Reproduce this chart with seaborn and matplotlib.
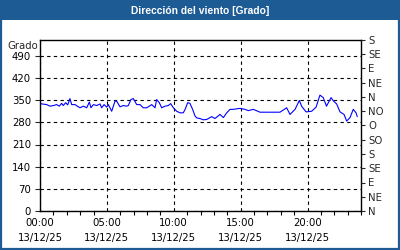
import matplotlib
matplotlib.use("Agg")
import matplotlib.pyplot as plt
import seaborn as sns
import pandas as pd
from matplotlib.patches import Rectangle
from matplotlib.ticker import MultipleLocator

# ---- data ----
hours = [0.00, 0.50, 0.75, 1.00, 1.25, 1.44, 1.62, 1.74, 1.92, 2.07, 2.24, 2.37, 2.62, 2.79,
         2.99, 3.24, 3.49, 3.69, 3.81, 3.99, 4.24, 4.49, 4.61, 4.79, 4.99, 5.11, 5.36, 5.61,
         5.73, 5.98, 6.23, 6.48, 6.60, 6.80, 6.98, 7.23, 7.48, 7.72, 7.98, 8.35, 8.60, 8.72,
         8.92, 9.10, 9.35, 9.59, 9.77, 9.97, 10.22, 10.47, 10.71, 10.84, 11.04, 11.21, 11.42,
         11.59, 11.72, 11.96, 12.21, 12.46, 12.84, 13.08, 13.46, 13.71, 13.96, 14.21, 14.45,
         14.95, 15.33, 15.57, 15.95, 16.45, 16.95, 17.94, 18.44, 18.69, 19.07, 19.39, 19.56,
         19.89, 20.31, 20.64, 20.93, 21.18, 21.42, 21.76, 21.93, 22.18, 22.43, 22.73, 22.93,
         23.18, 23.42, 23.63, 23.72]
direction = [339, 336, 331, 333, 336, 331, 340, 333, 342, 335, 355, 336, 336, 331,
             326, 331, 326, 344, 326, 336, 333, 338, 326, 336, 328, 336, 315, 347,
             347, 329, 333, 331, 333, 352, 355, 336, 336, 326, 326, 336, 326, 352,
             342, 326, 331, 333, 339, 326, 315, 310, 310, 320, 342, 340, 320,
             300, 294, 292, 288, 289, 298, 292, 305, 295, 310, 321, 321,
             324, 321, 317, 321, 312, 312, 312, 326, 305, 321, 349, 331,
             313, 315, 328, 366, 358, 331, 358, 348, 338, 313, 305, 284,
             295, 321, 310, 298]
left_ticks = [0, 70, 140, 210, 280, 350, 420, 490]
compass_labels = ["N", "NE", "E", "SE", "S", "SO", "O", "NO", "N", "NE", "E", "SE", "S"]
x_major = [0, 5, 10, 15, 20]
x_labels = ["00:00\n13/12/25", "05:00\n13/12/25", "10:00\n13/12/25",
            "15:00\n13/12/25", "20:00\n13/12/25"]
title = "Dirección del viento [Grado]"
ylabel = "Grado"

df = pd.DataFrame({"h": hours, "dir": direction})

sns.set_style("white")
plt.rcParams["font.family"] = ["DejaVu Sans"]
FS = 7.3
BLUE = "#1d5b95"

fig = plt.figure(figsize=(4, 2.5), dpi=100)
fig.patch.set_facecolor("white")

# frame and title bar
fig.add_artist(Rectangle((0, 230 / 250), 1, 20 / 250, transform=fig.transFigure,
                         facecolor=BLUE, edgecolor="none", zorder=0))
fig.add_artist(Rectangle((0.002, 0.003), 0.995, 0.995, transform=fig.transFigure,
                         facecolor="none", edgecolor=BLUE, linewidth=1.6, zorder=5))
fig.text(0.5, 1 - 10.5 / 250, title, color="white", fontsize=7.4, fontweight="bold",
         family=["Liberation Sans", "DejaVu Sans"], ha="center", va="center")

ax = fig.add_axes([40 / 400, 1 - 211 / 250, 321 / 400, 171 / 250])
sns.lineplot(data=df, x="h", y="dir", ax=ax, color="#0000ff", linewidth=0.8)
ax.set_xlim(0, 24)
ax.set_ylim(0, 540)
ax.set_xlabel("")
ax.set_ylabel("")
ax.set_yticks(left_ticks)
ax.set_yticklabels([str(t) for t in left_ticks], fontsize=FS)
ax.set_xticks(x_major)
ax.set_xticklabels(x_labels, fontsize=FS, linespacing=1.65)
ax.xaxis.set_minor_locator(MultipleLocator(1))
ax.tick_params(axis="x", which="both", direction="out", width=0.8, bottom=True,
               pad=5, colors="black")
ax.tick_params(axis="x", which="major", length=0)
ax.tick_params(axis="x", which="minor", length=3)
ax.tick_params(axis="y", left=False, pad=3, labelsize=FS)
for lbl in ax.get_xticklabels() + ax.get_yticklabels():
    lbl.set_color("black")
ax.grid(True, which="major", linestyle=(0, (3, 3)), color="black", linewidth=0.8)
for s in ax.spines.values():
    s.set_visible(True)
    s.set_color("black")
    s.set_linewidth(1)

ax2 = ax.twinx()
ax2.set_ylim(0, 540)
ax2.set_yticks(range(0, 541, 45))
ax2.set_yticklabels(compass_labels, fontsize=FS)
ax2.tick_params(axis="y", direction="out", length=3, width=0.8, pad=2, right=True)
ax2.grid(False)
for s in ax2.spines.values():
    s.set_visible(False)

fig.text(38 / 400, 1 - 46 / 250, ylabel, fontsize=FS, ha="right", va="center")

fig.savefig("out.png", dpi=100, facecolor="white")
